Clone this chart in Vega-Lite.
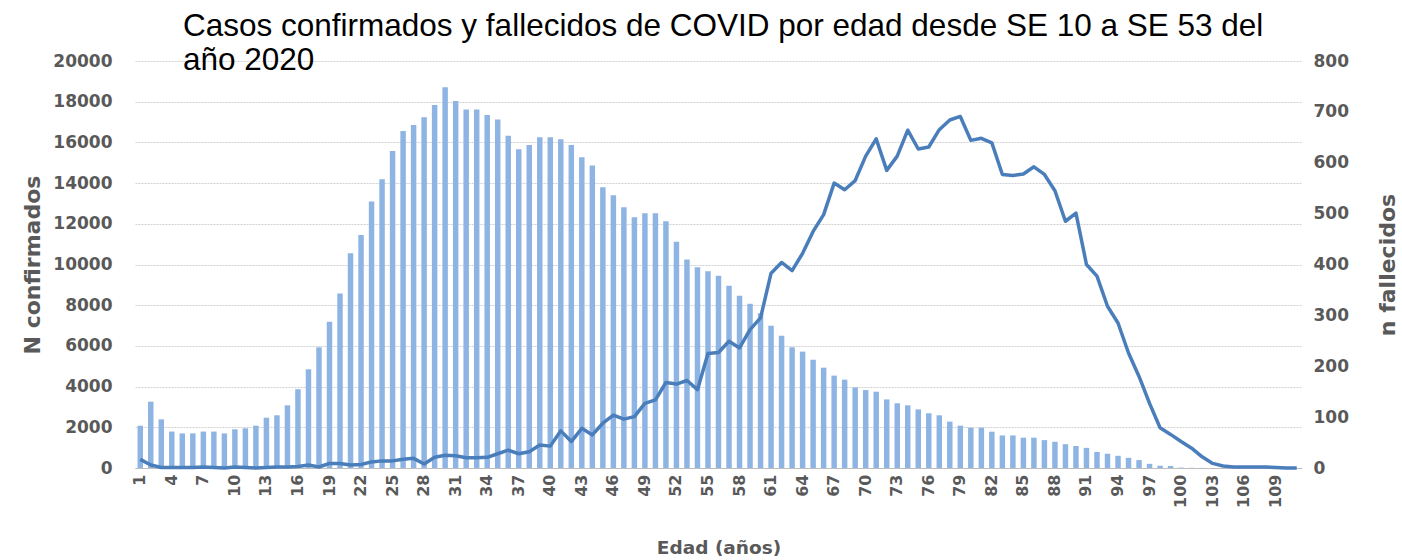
{
  "$schema": "https://vega.github.io/schema/vega-lite/v6.json",
  "autosize": {"type": "none"},
  "width": 1167,
  "height": 407,
  "padding": {"left": 135, "top": 61, "right": 100, "bottom": 92},
  "background": "white",
  "title": {
    "text": ["Casos confirmados y fallecidos de COVID por edad desde SE 10 a SE 53 del", "año 2020"],
    "font": "Liberation Sans",
    "fontSize": 31.5,
    "fontWeight": "normal",
    "color": "#000000",
    "anchor": "start",
    "frame": "group",
    "dx": 48,
    "lineHeight": 34,
    "baseline": "alphabetic",
    "offset": -49
  },
  "config": {
    "view": {"stroke": null},
    "axis": {
      "labelFont": "DejaVu Sans",
      "labelFontWeight": "bold",
      "labelColor": "#595959",
      "titleFont": "DejaVu Sans",
      "titleFontWeight": "bold",
      "titleColor": "#595959",
      "ticks": false,
      "tickSize": 0
    }
  },
  "data": {
    "values": [
      {"edad": 1, "confirmados": 2080, "fallecidos": 17},
      {"edad": 2, "confirmados": 3260, "fallecidos": 6},
      {"edad": 3, "confirmados": 2390, "fallecidos": 1},
      {"edad": 4, "confirmados": 1790, "fallecidos": 1},
      {"edad": 5, "confirmados": 1700, "fallecidos": 1},
      {"edad": 6, "confirmados": 1700, "fallecidos": 1},
      {"edad": 7, "confirmados": 1790, "fallecidos": 2},
      {"edad": 8, "confirmados": 1790, "fallecidos": 1},
      {"edad": 9, "confirmados": 1700, "fallecidos": 0},
      {"edad": 10, "confirmados": 1900, "fallecidos": 2},
      {"edad": 11, "confirmados": 1950, "fallecidos": 1},
      {"edad": 12, "confirmados": 2080, "fallecidos": 0},
      {"edad": 13, "confirmados": 2470, "fallecidos": 1},
      {"edad": 14, "confirmados": 2590, "fallecidos": 2},
      {"edad": 15, "confirmados": 3080, "fallecidos": 2},
      {"edad": 16, "confirmados": 3870, "fallecidos": 3},
      {"edad": 17, "confirmados": 4850, "fallecidos": 6},
      {"edad": 18, "confirmados": 5930, "fallecidos": 2},
      {"edad": 19, "confirmados": 7190, "fallecidos": 9},
      {"edad": 20, "confirmados": 8580, "fallecidos": 9},
      {"edad": 21, "confirmados": 10550, "fallecidos": 6},
      {"edad": 22, "confirmados": 11450, "fallecidos": 7},
      {"edad": 23, "confirmados": 13090, "fallecidos": 12},
      {"edad": 24, "confirmados": 14190, "fallecidos": 14},
      {"edad": 25, "confirmados": 15580, "fallecidos": 14},
      {"edad": 26, "confirmados": 16560, "fallecidos": 17},
      {"edad": 27, "confirmados": 16850, "fallecidos": 19},
      {"edad": 28, "confirmados": 17230, "fallecidos": 8},
      {"edad": 29, "confirmados": 17840, "fallecidos": 21},
      {"edad": 30, "confirmados": 18710, "fallecidos": 25},
      {"edad": 31, "confirmados": 18030, "fallecidos": 24},
      {"edad": 32, "confirmados": 17620, "fallecidos": 20},
      {"edad": 33, "confirmados": 17620, "fallecidos": 20},
      {"edad": 34, "confirmados": 17350, "fallecidos": 21},
      {"edad": 35, "confirmados": 17130, "fallecidos": 28},
      {"edad": 36, "confirmados": 16330, "fallecidos": 35},
      {"edad": 37, "confirmados": 15660, "fallecidos": 28},
      {"edad": 38, "confirmados": 15870, "fallecidos": 32},
      {"edad": 39, "confirmados": 16250, "fallecidos": 45},
      {"edad": 40, "confirmados": 16250, "fallecidos": 43},
      {"edad": 41, "confirmados": 16150, "fallecidos": 73},
      {"edad": 42, "confirmados": 15870, "fallecidos": 52},
      {"edad": 43, "confirmados": 15270, "fallecidos": 78},
      {"edad": 44, "confirmados": 14870, "fallecidos": 65},
      {"edad": 45, "confirmados": 13790, "fallecidos": 88},
      {"edad": 46, "confirmados": 13400, "fallecidos": 104},
      {"edad": 47, "confirmados": 12810, "fallecidos": 96},
      {"edad": 48, "confirmados": 12320, "fallecidos": 101},
      {"edad": 49, "confirmados": 12520, "fallecidos": 127},
      {"edad": 50, "confirmados": 12520, "fallecidos": 134},
      {"edad": 51, "confirmados": 12120, "fallecidos": 168},
      {"edad": 52, "confirmados": 11120, "fallecidos": 165},
      {"edad": 53, "confirmados": 10250, "fallecidos": 172},
      {"edad": 54, "confirmados": 9860, "fallecidos": 154},
      {"edad": 55, "confirmados": 9670, "fallecidos": 225},
      {"edad": 56, "confirmados": 9450, "fallecidos": 227},
      {"edad": 57, "confirmados": 8960, "fallecidos": 249},
      {"edad": 58, "confirmados": 8470, "fallecidos": 236},
      {"edad": 59, "confirmados": 8070, "fallecidos": 272},
      {"edad": 60, "confirmados": 7600, "fallecidos": 295},
      {"edad": 61, "confirmados": 6990, "fallecidos": 383},
      {"edad": 62, "confirmados": 6500, "fallecidos": 404},
      {"edad": 63, "confirmados": 5930, "fallecidos": 388},
      {"edad": 64, "confirmados": 5720, "fallecidos": 422},
      {"edad": 65, "confirmados": 5320, "fallecidos": 465},
      {"edad": 66, "confirmados": 4930, "fallecidos": 498},
      {"edad": 67, "confirmados": 4540, "fallecidos": 560},
      {"edad": 68, "confirmados": 4340, "fallecidos": 547},
      {"edad": 69, "confirmados": 3960, "fallecidos": 565},
      {"edad": 70, "confirmados": 3830, "fallecidos": 613},
      {"edad": 71, "confirmados": 3750, "fallecidos": 647},
      {"edad": 72, "confirmados": 3370, "fallecidos": 585},
      {"edad": 73, "confirmados": 3180, "fallecidos": 613},
      {"edad": 74, "confirmados": 3080, "fallecidos": 664},
      {"edad": 75, "confirmados": 2880, "fallecidos": 627},
      {"edad": 76, "confirmados": 2690, "fallecidos": 631},
      {"edad": 77, "confirmados": 2590, "fallecidos": 665},
      {"edad": 78, "confirmados": 2280, "fallecidos": 684},
      {"edad": 79, "confirmados": 2080, "fallecidos": 691},
      {"edad": 80, "confirmados": 1980, "fallecidos": 644},
      {"edad": 81, "confirmados": 1980, "fallecidos": 648},
      {"edad": 82, "confirmados": 1785, "fallecidos": 639},
      {"edad": 83, "confirmados": 1600, "fallecidos": 577},
      {"edad": 84, "confirmados": 1600, "fallecidos": 575},
      {"edad": 85, "confirmados": 1490, "fallecidos": 578},
      {"edad": 86, "confirmados": 1490, "fallecidos": 592},
      {"edad": 87, "confirmados": 1370, "fallecidos": 577},
      {"edad": 88, "confirmados": 1290, "fallecidos": 545},
      {"edad": 89, "confirmados": 1170, "fallecidos": 485},
      {"edad": 90, "confirmados": 1080, "fallecidos": 501},
      {"edad": 91, "confirmados": 990, "fallecidos": 400},
      {"edad": 92, "confirmados": 790, "fallecidos": 377},
      {"edad": 93, "confirmados": 700, "fallecidos": 318},
      {"edad": 94, "confirmados": 600, "fallecidos": 285},
      {"edad": 95, "confirmados": 500, "fallecidos": 226},
      {"edad": 96, "confirmados": 390, "fallecidos": 180},
      {"edad": 97, "confirmados": 205, "fallecidos": 127},
      {"edad": 98, "confirmados": 110, "fallecidos": 79},
      {"edad": 99, "confirmados": 100, "fallecidos": 66},
      {"edad": 100, "confirmados": 20, "fallecidos": 52},
      {"edad": 101, "confirmados": 10, "fallecidos": 39},
      {"edad": 102, "confirmados": 5, "fallecidos": 22},
      {"edad": 103, "confirmados": 0, "fallecidos": 9},
      {"edad": 104, "confirmados": 0, "fallecidos": 4},
      {"edad": 105, "confirmados": 0, "fallecidos": 2},
      {"edad": 106, "confirmados": 0, "fallecidos": 2},
      {"edad": 107, "confirmados": 0, "fallecidos": 2},
      {"edad": 108, "confirmados": 0, "fallecidos": 2},
      {"edad": 109, "confirmados": 0, "fallecidos": 1},
      {"edad": 110, "confirmados": 0, "fallecidos": 0},
      {"edad": 111, "confirmados": 0, "fallecidos": 0}
    ]
  },
  "encoding": {
    "x": {
      "field": "edad",
      "type": "ordinal",
      "scale": {"paddingInner": 0.48, "paddingOuter": 0.24},
      "axis": {
        "title": "Edad (años)",
        "titleFontSize": 18.5,
        "titlePadding": 31,
        "labelFontSize": 16,
        "labelAngle": -90,
        "labelPadding": 6,
        "values": [1, 4, 7, 10, 13, 16, 19, 22, 25, 28, 31, 34, 37, 40, 43, 46, 49, 52, 55, 58, 61, 64, 67, 70, 73, 76, 79, 82, 85, 88, 91, 94, 97, 100, 103, 106, 109],
        "domainColor": "#bfbfbf",
        "domainWidth": 1,
        "grid": false
      }
    }
  },
  "layer": [
    {
      "mark": {"type": "bar", "color": "#8eb4e3"},
      "encoding": {
        "y": {
          "field": "confirmados",
          "type": "quantitative",
          "scale": {"domain": [0, 20000], "nice": false},
          "axis": {
            "title": "N confirmados",
            "titleFontSize": 22,
            "titlePadding": 8,
            "labelFontSize": 17,
            "labelPadding": 23,
            "values": [0, 2000, 4000, 6000, 8000, 10000, 12000, 14000, 16000, 18000, 20000],
            "format": "d",
            "domain": false,
            "grid": true,
            "gridColor": "#d0d0d0",
            "gridDash": [2, 1],
            "gridWidth": 1
          }
        }
      }
    },
    {
      "mark": {"type": "line", "color": "#4a7ebb", "strokeWidth": 3.5, "strokeJoin": "round"},
      "encoding": {
        "y": {
          "field": "fallecidos",
          "type": "quantitative",
          "scale": {"domain": [0, 800], "nice": false},
          "axis": {
            "orient": "right",
            "title": "n fallecidos",
            "titleFontSize": 22,
            "titleAngle": 270,
            "titlePadding": 51,
            "labelFontSize": 17,
            "labelPadding": 11,
            "values": [0, 100, 200, 300, 400, 500, 600, 700, 800],
            "format": "d",
            "domain": false,
            "grid": false
          }
        }
      }
    }
  ],
  "resolve": {"scale": {"y": "independent"}}
}
